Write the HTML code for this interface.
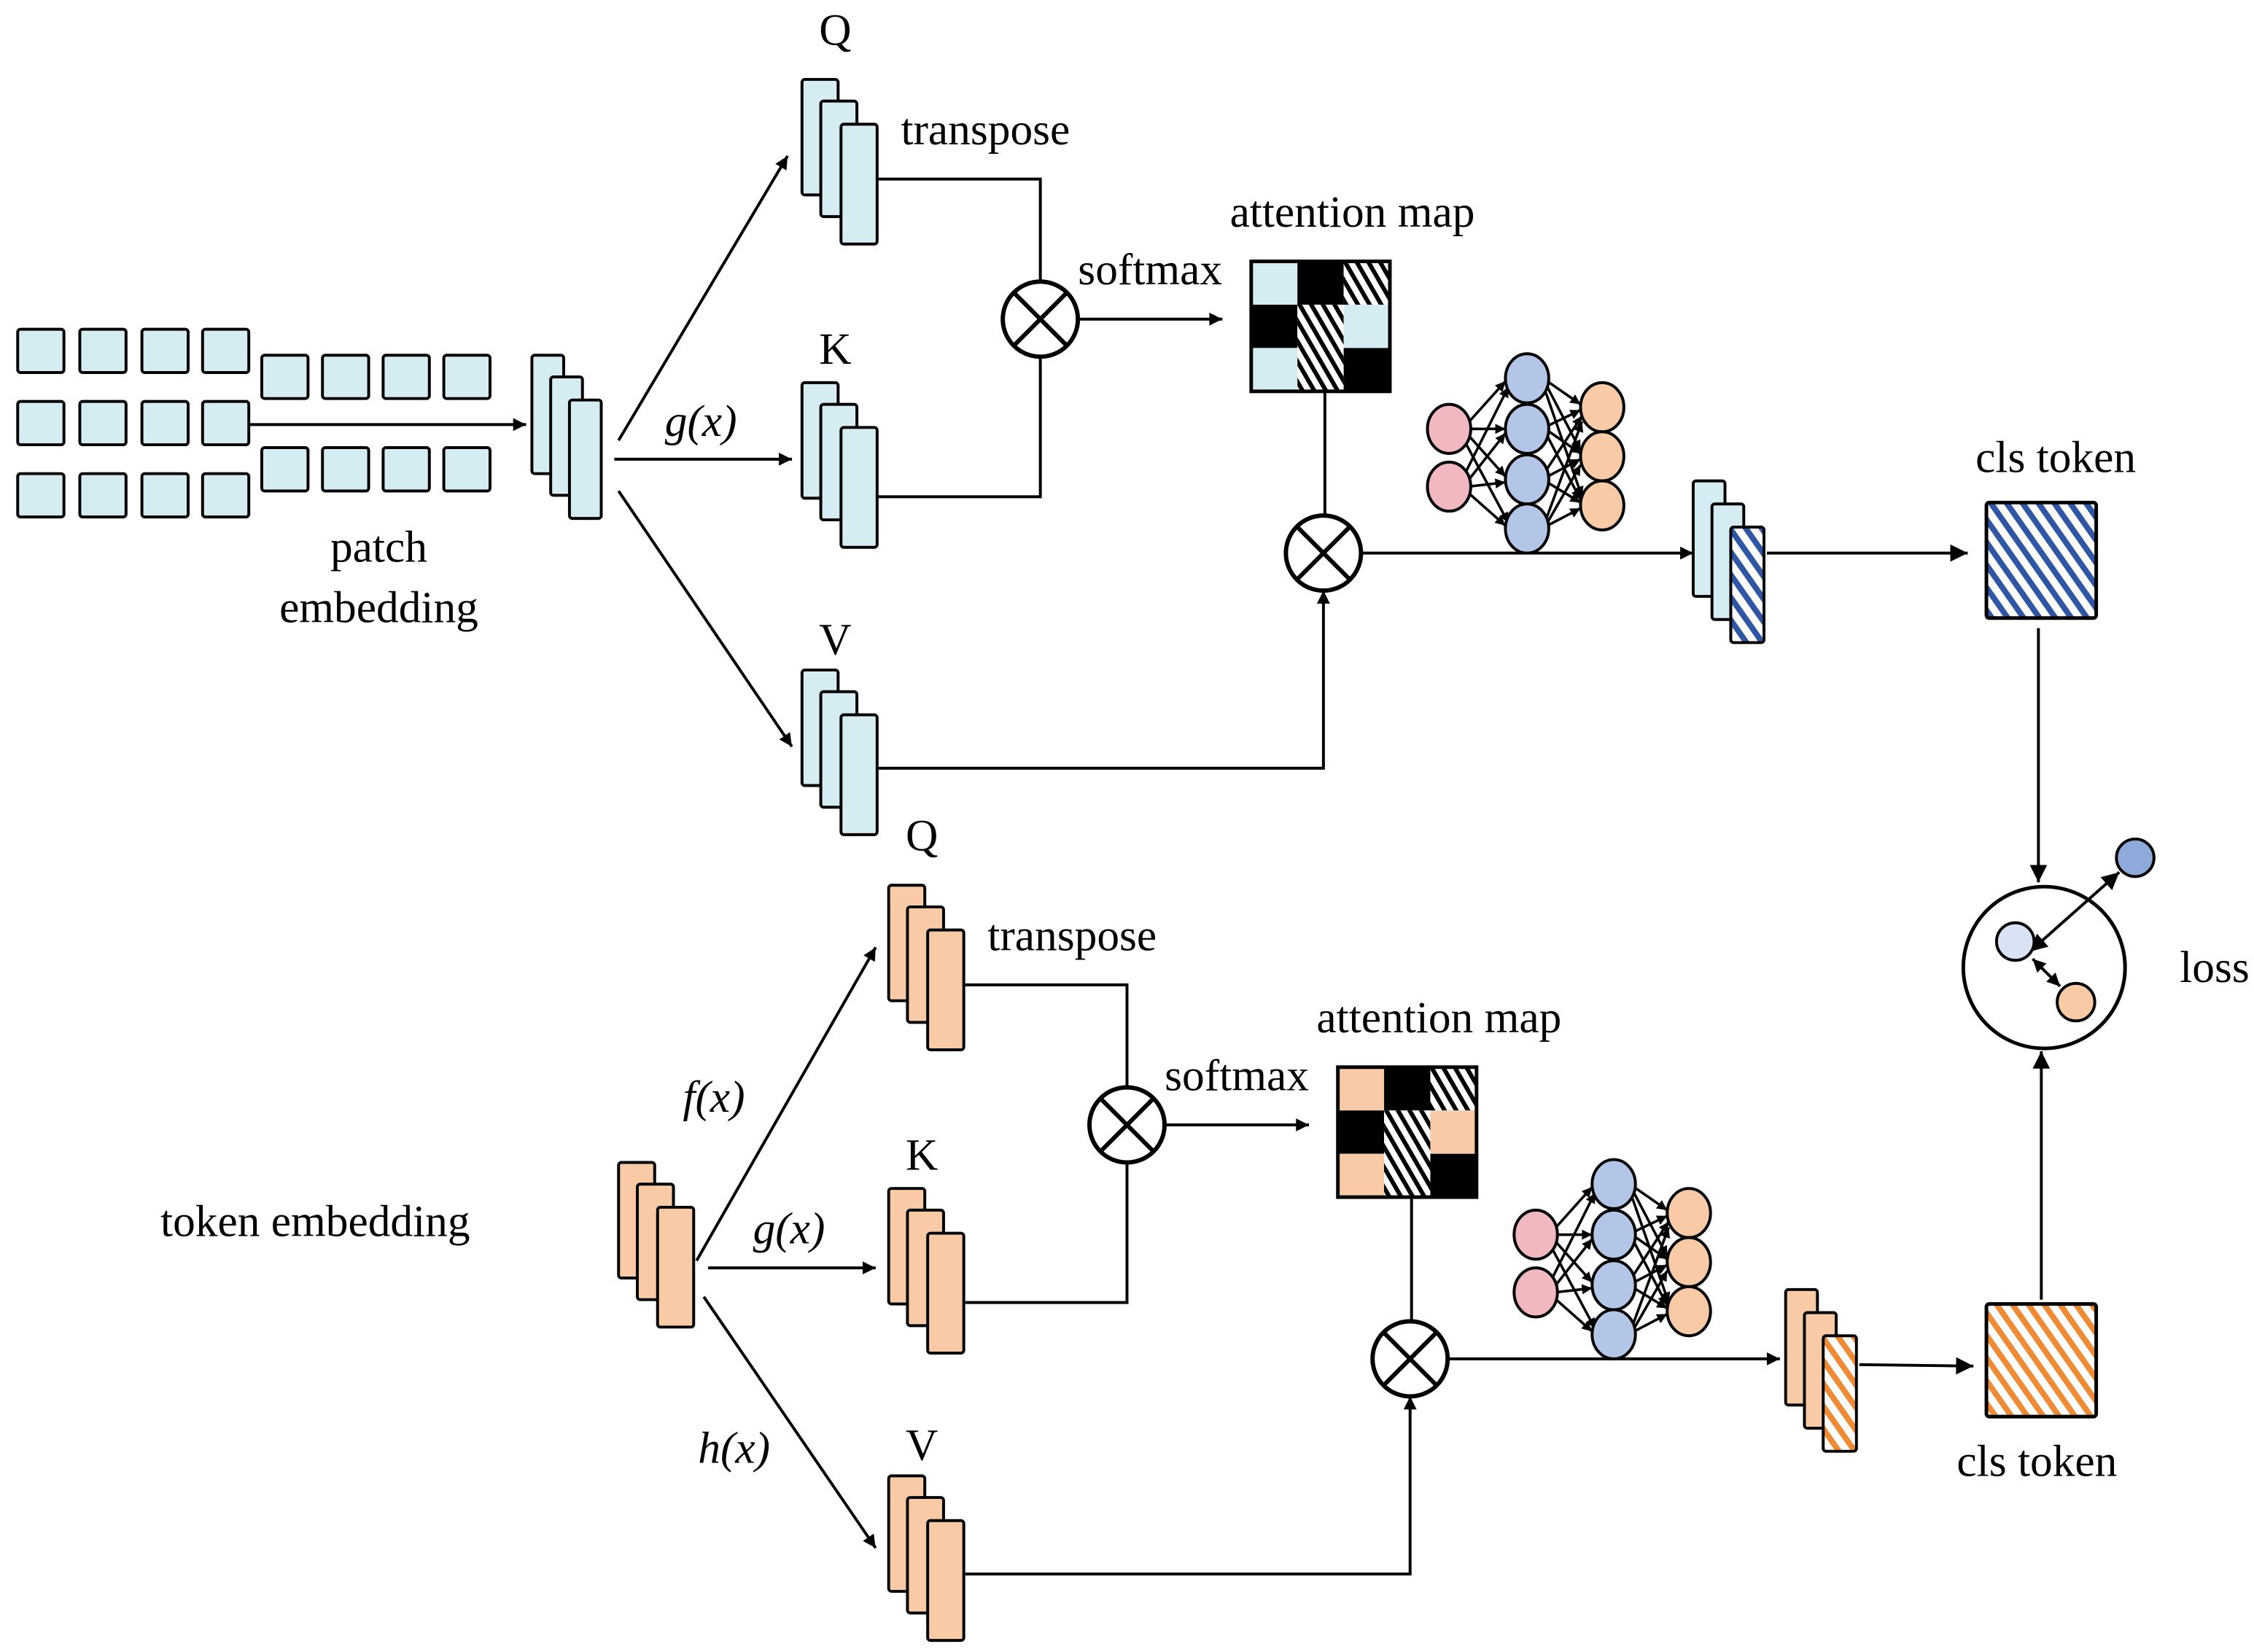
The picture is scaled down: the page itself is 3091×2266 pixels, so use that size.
<!DOCTYPE html>
<html><head><meta charset="utf-8"><style>html,body{margin:0;padding:0;background:#fff}svg{display:block}svg text{font-family:"Liberation Serif","Noto Serif CJK SC","DejaVu Serif",serif !important;font-size:31px;fill:#000}</style></head>
<body>
<svg width="3091" height="2266" viewBox="0 0 1560 1144" xmlns="http://www.w3.org/2000/svg" font-family="'Liberation Serif', 'Noto Serif CJK SC', serif" font-size="31">
<defs>
<marker id="ar" viewBox="0 0 10 10" refX="10" refY="5" markerWidth="11" markerHeight="9" orient="auto-start-reverse" markerUnits="userSpaceOnUse"><path d="M0,0L10,5L0,10z" fill="#000"/></marker>
<marker id="ar2" viewBox="0 0 10 10" refX="10" refY="5" markerWidth="14" markerHeight="12" orient="auto-start-reverse" markerUnits="userSpaceOnUse"><path d="M0,0L10,5L0,10z" fill="#000"/></marker>
<marker id="ar3" viewBox="0 0 10 10" refX="10" refY="5" markerWidth="8" markerHeight="7" orient="auto-start-reverse" markerUnits="userSpaceOnUse"><path d="M0,0L10,5L0,10z" fill="#000"/></marker>
<pattern id="hk" width="7" height="7" patternUnits="userSpaceOnUse" patternTransform="rotate(-30)"><rect width="7" height="7" fill="#fff"/><rect width="3" height="7" fill="#000"/></pattern>
<pattern id="hb" width="9" height="9" patternUnits="userSpaceOnUse" patternTransform="rotate(-35)"><rect width="9" height="9" fill="#fff"/><rect width="4" height="9" fill="#2f56a4"/></pattern>
<pattern id="ho" width="9" height="9" patternUnits="userSpaceOnUse" patternTransform="rotate(-35)"><rect width="9" height="9" fill="#fff"/><rect width="4" height="9" fill="#ef8a35"/></pattern>
<g id="stB"><rect x="0" y="0" width="25" height="80" rx="2" fill="#d6ecf3" stroke="#000" stroke-width="2"/><rect x="13" y="15" width="25" height="80" rx="2" fill="#d6ecf3" stroke="#000" stroke-width="2"/><rect x="27" y="31" width="25" height="83" rx="2" fill="#d6ecf3" stroke="#000" stroke-width="2"/></g>
<g id="stO"><rect x="0" y="0" width="25" height="80" rx="2" fill="#f8cba6" stroke="#000" stroke-width="2"/><rect x="13" y="15" width="25" height="80" rx="2" fill="#f8cba6" stroke="#000" stroke-width="2"/><rect x="27" y="31" width="25" height="83" rx="2" fill="#f8cba6" stroke="#000" stroke-width="2"/></g>
<g id="otimes"><circle r="26" fill="#fff" stroke="#000" stroke-width="3"/><path d="M-18,-18L18,18M18,-18L-18,18" stroke="#000" stroke-width="3"/></g>
<g id="nn" stroke="#000" stroke-width="2">
<g fill="none" stroke-width="1.8" marker-end="url(#ar3)">
<path d="M1016,293L1042,264"/><path d="M1016,297L1042,297"/><path d="M1016,301L1042,330"/><path d="M1014,306L1044,362"/>
<path d="M1014,328L1044,268"/><path d="M1016,333L1042,300"/><path d="M1016,337L1042,334"/><path d="M1016,341L1042,364"/>
<path d="M1071,264L1094,280"/><path d="M1071,268L1094,312"/><path d="M1070,272L1095,344"/>
<path d="M1071,295L1094,284"/><path d="M1071,298L1094,314"/><path d="M1071,302L1094,346"/>
<path d="M1070,326L1095,288"/><path d="M1071,330L1094,318"/><path d="M1071,334L1094,348"/>
<path d="M1070,360L1095,292"/><path d="M1071,362L1094,322"/><path d="M1071,364L1094,352"/>
</g>
<ellipse cx="1003" cy="297" rx="15" ry="17" fill="#f2b8c0"/><ellipse cx="1003" cy="337" rx="15" ry="17" fill="#f2b8c0"/>
<ellipse cx="1057" cy="262" rx="15" ry="17" fill="#b4c6e7"/><ellipse cx="1057" cy="297" rx="15" ry="17" fill="#b4c6e7"/><ellipse cx="1057" cy="332" rx="15" ry="17" fill="#b4c6e7"/><ellipse cx="1057" cy="366" rx="15" ry="17" fill="#b4c6e7"/>
<ellipse cx="1109" cy="282" rx="15" ry="17" fill="#f8cba6"/><ellipse cx="1109" cy="316" rx="15" ry="17" fill="#f8cba6"/><ellipse cx="1109" cy="350" rx="15" ry="17" fill="#f8cba6"/>
</g>
</defs>

<g fill="#d6ecf3" stroke="#000" stroke-width="2">
<rect x="12" y="228" width="32" height="30" rx="2"/><rect x="55" y="228" width="32" height="30" rx="2"/><rect x="98" y="228" width="32" height="30" rx="2"/><rect x="140" y="228" width="32" height="30" rx="2"/>
<rect x="12" y="278" width="32" height="30" rx="2"/><rect x="55" y="278" width="32" height="30" rx="2"/><rect x="98" y="278" width="32" height="30" rx="2"/><rect x="140" y="278" width="32" height="30" rx="2"/>
<rect x="12" y="328" width="32" height="30" rx="2"/><rect x="55" y="328" width="32" height="30" rx="2"/><rect x="98" y="328" width="32" height="30" rx="2"/><rect x="140" y="328" width="32" height="30" rx="2"/>
<rect x="181" y="246" width="32" height="30" rx="2"/><rect x="223" y="246" width="32" height="30" rx="2"/><rect x="265" y="246" width="32" height="30" rx="2"/><rect x="307" y="246" width="32" height="30" rx="2"/>
<rect x="181" y="310" width="32" height="30" rx="2"/><rect x="223" y="310" width="32" height="30" rx="2"/><rect x="265" y="310" width="32" height="30" rx="2"/><rect x="307" y="310" width="32" height="30" rx="2"/>
</g>
<line x1="172" y1="294" x2="364" y2="294" stroke="#000" stroke-width="2" marker-end="url(#ar)"/>
<g transform="translate(368,246)"><rect x="0" y="0" width="22" height="82" rx="2" fill="#d6ecf3" stroke="#000" stroke-width="2"/><rect x="13" y="15" width="22" height="82" rx="2" fill="#d6ecf3" stroke="#000" stroke-width="2"/><rect x="26" y="31" width="22" height="82" rx="2" fill="#d6ecf3" stroke="#000" stroke-width="2"/></g>
<text x="262" y="389" text-anchor="middle">patch</text>
<text x="262" y="431" text-anchor="middle">embedding</text>
<g stroke="#000" stroke-width="2" fill="none" marker-end="url(#ar)">
<line x1="428" y1="305" x2="545" y2="108"/><line x1="425" y1="318" x2="548" y2="318"/><line x1="428" y1="340" x2="548" y2="517"/>
</g>
<text x="485" y="302" text-anchor="middle" font-style="italic">g(x)</text>

<g>
<use href="#stB" x="555" y="55"/><use href="#stB" x="555" y="265"/><use href="#stB" x="555" y="464"/>
<text x="578" y="31" text-anchor="middle">Q</text><text x="682" y="100" text-anchor="middle">transpose</text>
<text x="578" y="252" text-anchor="middle">K</text><text x="578" y="453" text-anchor="middle">V</text>
<g stroke="#000" stroke-width="2" fill="none">
<path d="M608,124H720V196"/><path d="M608,344H720V246"/>
<line x1="746" y1="221" x2="846" y2="221" marker-end="url(#ar)"/>
<path d="M917,271V357"/>
<path d="M608,532H916V409" marker-end="url(#ar)"/>
<line x1="942" y1="383" x2="1172" y2="383" marker-end="url(#ar)"/>
</g>
<use href="#otimes" x="720" y="221"/><use href="#otimes" x="916" y="383"/>
<text x="796" y="197" text-anchor="middle">softmax</text>
<text x="936" y="157" text-anchor="middle">attention map</text>
<rect x="866" y="181" width="32" height="30" fill="#d6ecf3"/><rect x="898" y="181" width="32" height="30" fill="#000"/><rect x="930" y="181" width="32" height="30" fill="url(#hk)"/>
<rect x="866" y="211" width="32" height="30" fill="#000"/><rect x="898" y="211" width="32" height="30" fill="url(#hk)"/><rect x="930" y="211" width="32" height="30" fill="#d6ecf3"/>
<rect x="866" y="241" width="32" height="30" fill="#d6ecf3"/><rect x="898" y="241" width="32" height="30" fill="url(#hk)"/><rect x="930" y="241" width="32" height="30" fill="#000"/>
<rect x="866" y="181" width="96" height="90" fill="none" stroke="#000" stroke-width="2.5"/>
<use href="#nn"/>
</g>
<g transform="translate(1172,333)"><rect x="0" y="0" width="22" height="80" rx="2" fill="#d6ecf3" stroke="#000" stroke-width="2"/><rect x="13" y="16" width="22" height="80" rx="2" fill="#d6ecf3" stroke="#000" stroke-width="2"/><rect x="26" y="32" width="23" height="80" rx="2" fill="url(#hb)" stroke="#000" stroke-width="2"/></g>
<line x1="1223" y1="383" x2="1362" y2="383" stroke="#000" stroke-width="2" marker-end="url(#ar2)"/>
<rect x="1375" y="348" width="76" height="80" rx="2" fill="url(#hb)" stroke="#000" stroke-width="2.5"/>
<text x="1423" y="327" text-anchor="middle">cls token</text>
<line x1="1411" y1="435" x2="1411" y2="611" stroke="#000" stroke-width="2" marker-end="url(#ar2)"/>

<circle cx="1415" cy="670" r="56" fill="#fff" stroke="#000" stroke-width="2.5"/>
<g stroke="#000" stroke-width="2">
<line x1="1405" y1="659" x2="1467" y2="604" marker-end="url(#ar2)" marker-start="url(#ar2)"/>
<line x1="1407" y1="664" x2="1426" y2="683" marker-end="url(#ar)" marker-start="url(#ar)"/>
<circle cx="1395" cy="652" r="13" fill="#dae3f3"/>
<circle cx="1437" cy="694" r="13" fill="#f8cba6"/>
<circle cx="1478" cy="594" r="13" fill="#8eaadb"/>
</g>
<text x="1533" y="680" text-anchor="middle">loss</text>

<g transform="translate(60,558)">
<use href="#stO" x="555" y="55"/><use href="#stO" x="555" y="265"/><use href="#stO" x="555" y="464"/>
<text x="578" y="31" text-anchor="middle">Q</text><text x="682" y="100" text-anchor="middle">transpose</text>
<text x="578" y="252" text-anchor="middle">K</text><text x="578" y="453" text-anchor="middle">V</text>
<g stroke="#000" stroke-width="2" fill="none">
<path d="M608,124H720V196"/><path d="M608,344H720V246"/>
<line x1="746" y1="221" x2="846" y2="221" marker-end="url(#ar)"/>
<path d="M917,271V357"/>
<path d="M608,532H916V409" marker-end="url(#ar)"/>
<line x1="942" y1="383" x2="1172" y2="383" marker-end="url(#ar)"/>
</g>
<use href="#otimes" x="720" y="221"/><use href="#otimes" x="916" y="383"/>
<text x="796" y="197" text-anchor="middle">softmax</text>
<text x="936" y="157" text-anchor="middle">attention map</text>
<rect x="866" y="181" width="32" height="30" fill="#f8cba6"/><rect x="898" y="181" width="32" height="30" fill="#000"/><rect x="930" y="181" width="32" height="30" fill="url(#hk)"/>
<rect x="866" y="211" width="32" height="30" fill="#000"/><rect x="898" y="211" width="32" height="30" fill="url(#hk)"/><rect x="930" y="211" width="32" height="30" fill="#f8cba6"/>
<rect x="866" y="241" width="32" height="30" fill="#f8cba6"/><rect x="898" y="241" width="32" height="30" fill="url(#hk)"/><rect x="930" y="241" width="32" height="30" fill="#000"/>
<rect x="866" y="181" width="96" height="90" fill="none" stroke="#000" stroke-width="2.5"/>
<use href="#nn"/>
</g>
<g transform="translate(1236,893)"><rect x="0" y="0" width="22" height="80" rx="2" fill="#f8cba6" stroke="#000" stroke-width="2"/><rect x="13" y="16" width="22" height="80" rx="2" fill="#f8cba6" stroke="#000" stroke-width="2"/><rect x="26" y="32" width="23" height="80" rx="2" fill="url(#ho)" stroke="#000" stroke-width="2"/></g>
<line x1="1287" y1="945" x2="1366" y2="946" stroke="#000" stroke-width="2" marker-end="url(#ar2)"/>
<rect x="1375" y="903" width="76" height="78" rx="2" fill="url(#ho)" stroke="#000" stroke-width="2.5"/>
<text x="1410" y="1022" text-anchor="middle">cls token</text>
<line x1="1413" y1="900" x2="1413" y2="728" stroke="#000" stroke-width="2" marker-end="url(#ar2)"/>

<use href="#stO" x="428" y="805"/>
<text x="218" y="856" text-anchor="middle">token embedding</text>
<g stroke="#000" stroke-width="2" fill="none" marker-end="url(#ar)">
<line x1="482" y1="873" x2="606" y2="656"/><line x1="490" y1="878" x2="606" y2="878"/><line x1="487" y1="898" x2="606" y2="1072"/>
</g>
<text x="494" y="770" text-anchor="middle" font-style="italic">f(x)</text>
<text x="546" y="861" text-anchor="middle" font-style="italic">g(x)</text>
<text x="508" y="1013" text-anchor="middle" font-style="italic">h(x)</text>
</svg>
</body></html>
